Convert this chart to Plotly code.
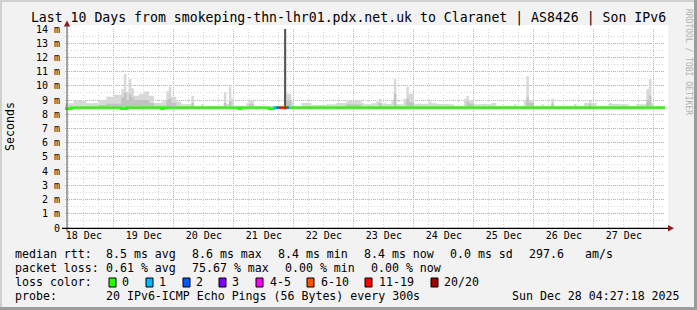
import plotly.graph_objects as go
import pandas as pd

# ---------------- data ----------------
TITLE = "Last 10 Days from smokeping-thn-lhr01.pdx.net.uk to Claranet | AS8426 | Son IPv6"
T_START = "2025-12-18 04:27:18"
T_END = "2025-12-28 04:27:18"
FIRST_BIN = "2025-12-18 04:00"   # hourly bins

# top of the smoke (max rtt, ms) per hour
smoke_max = [
    8.77, 8.77, 8.77, 8.77, 8.96, 8.96, 8.96, 8.96, 8.96, 8.77, 8.77, 8.77, 8.80, 8.80, 8.96, 8.96, 8.96, 9.24, 9.24, 9.24, 9.38, 9.38, 9.38, 9.76,
    10.83, 9.60, 10.48, 9.83, 9.30, 9.30, 9.45, 9.45, 9.60, 9.60, 9.30, 9.30, 8.80, 8.80, 8.80, 8.90, 8.90, 9.64, 9.94, 9.24, 9.24, 8.90, 8.90, 8.70,
    8.70, 8.70, 8.70, 9.30, 8.60, 8.60, 8.60, 8.70, 8.56, 8.56, 8.56, 8.56, 8.56, 8.56, 8.56, 8.56, 9.55, 8.70, 9.94, 9.10, 8.60, 8.60, 8.60, 8.60,
    8.60, 8.77, 8.96, 8.96, 8.60, 8.60, 8.60, 8.56, 8.56, 8.56, 8.56, 8.56, 8.50, 8.50, 8.50, 8.50, 16.0, 9.45, 9.45, 8.90, 8.56, 8.56, 8.56, 8.80,
    8.80, 8.80, 8.80, 8.65, 8.65, 8.65, 8.65, 8.65, 8.65, 8.70, 8.70, 8.70, 8.70, 8.80, 8.80, 8.80, 8.80, 8.96, 8.96, 8.96, 8.96, 8.96, 8.96, 8.77,
    8.70, 8.70, 8.70, 8.77, 8.77, 8.90, 9.10, 8.77, 8.77, 8.72, 8.72, 8.90, 10.46, 8.70, 8.70, 8.70, 9.10, 9.94, 9.45, 9.45, 8.75, 8.75, 8.75, 8.75,
    8.75, 8.75, 8.90, 8.77, 8.77, 8.72, 8.72, 8.72, 8.72, 8.72, 8.70, 8.70, 8.60, 8.60, 8.60, 8.60, 9.10, 9.30, 9.00, 9.00, 8.70, 8.70, 8.70, 8.72,
    8.72, 8.70, 8.70, 8.80, 8.80, 8.60, 8.60, 8.60, 8.60, 8.60, 8.60, 8.60, 8.70, 8.60, 8.60, 8.60, 9.00, 10.69, 9.00, 9.00, 8.60, 8.60, 8.60, 8.70,
    8.60, 8.60, 8.60, 9.10, 8.60, 8.60, 8.60, 8.60, 8.60, 8.60, 8.60, 8.60, 8.72, 8.60, 8.60, 8.60, 8.80, 8.80, 8.96, 8.80, 8.80, 8.60, 8.60, 8.60,
    8.60, 8.60, 8.80, 8.72, 8.72, 8.72, 8.70, 8.70, 8.70, 8.70, 8.60, 8.60, 8.60, 8.72, 8.70, 8.70, 8.70, 9.76, 10.46, 8.77, 8.60, 8.60, 8.60, 8.60,
    8.60,
]

# top of the denser (inner) smoke per hour
smoke_inner = [
    8.55, 8.55, 8.55, 8.55, 8.55, 8.55, 8.55, 8.55, 8.55, 8.55, 8.55, 8.55, 8.55, 8.55, 8.65, 8.65, 8.65, 8.75, 8.75, 8.75, 8.75, 8.75, 8.75, 9.20,
    9.50, 9.00, 9.40, 9.20, 9.00, 9.00, 9.00, 9.00, 9.00, 9.00, 8.80, 8.80, 8.60, 8.60, 8.60, 8.60, 8.60, 9.00, 9.10, 8.80, 8.80, 8.55, 8.55, 8.55,
    8.55, 8.55, 8.55, 8.80, 8.55, 8.55, 8.55, 8.55, 8.55, 8.55, 8.55, 8.55, 8.55, 8.55, 8.55, 8.55, 8.80, 8.55, 8.90, 8.55, 8.55, 8.55, 8.55, 8.55,
    8.55, 8.55, 8.70, 8.70, 8.55, 8.55, 8.55, 8.55, 8.55, 8.55, 8.55, 8.55, 8.55, 8.55, 8.55, 8.55, 8.55, 9.00, 9.00, 8.55, 8.55, 8.55, 8.55, 8.55,
    8.55, 8.55, 8.55, 8.55, 8.55, 8.55, 8.55, 8.55, 8.55, 8.55, 8.55, 8.55, 8.55, 8.55, 8.55, 8.55, 8.55, 8.70, 8.70, 8.70, 8.70, 8.70, 8.70, 8.55,
    8.55, 8.55, 8.55, 8.55, 8.55, 8.55, 8.80, 8.55, 8.55, 8.55, 8.55, 8.55, 9.45, 8.55, 8.55, 8.55, 8.55, 9.10, 8.85, 8.85, 8.55, 8.55, 8.55, 8.55,
    8.55, 8.55, 8.55, 8.55, 8.55, 8.55, 8.55, 8.55, 8.55, 8.55, 8.55, 8.55, 8.55, 8.55, 8.55, 8.55, 8.55, 8.90, 8.75, 8.75, 8.55, 8.55, 8.55, 8.55,
    8.55, 8.55, 8.55, 8.55, 8.55, 8.55, 8.55, 8.55, 8.55, 8.55, 8.55, 8.55, 8.55, 8.55, 8.55, 8.55, 8.55, 9.20, 8.80, 8.80, 8.55, 8.55, 8.55, 8.55,
    8.55, 8.55, 8.55, 8.75, 8.55, 8.55, 8.55, 8.55, 8.55, 8.55, 8.55, 8.55, 8.55, 8.55, 8.55, 8.55, 8.55, 8.55, 8.70, 8.55, 8.55, 8.55, 8.55, 8.55,
    8.55, 8.55, 8.55, 8.55, 8.55, 8.55, 8.55, 8.55, 8.55, 8.55, 8.55, 8.55, 8.55, 8.55, 8.55, 8.55, 8.55, 9.00, 9.30, 8.55, 8.55, 8.55, 8.55, 8.55,
    8.55,
]

# median rtt (ms) per hour
median_rtt = [
    8.39, 8.39, 8.39, 8.47, 8.47, 8.47, 8.47, 8.47, 8.47, 8.47, 8.47, 8.47, 8.47, 8.47, 8.47, 8.47, 8.47, 8.47, 8.47, 8.47, 8.47, 8.47, 8.47, 8.39,
    8.39, 8.47, 8.47, 8.47, 8.47, 8.47, 8.47, 8.47, 8.47, 8.47, 8.47, 8.47, 8.47, 8.47, 8.47, 8.39, 8.47, 8.47, 8.47, 8.47, 8.47, 8.47, 8.47, 8.47,
    8.47, 8.47, 8.47, 8.47, 8.47, 8.47, 8.47, 8.47, 8.47, 8.47, 8.47, 8.47, 8.47, 8.47, 8.47, 8.47, 8.47, 8.47, 8.47, 8.47, 8.47, 8.47, 8.39, 8.47,
    8.47, 8.47, 8.47, 8.47, 8.47, 8.47, 8.47, 8.47, 8.47, 8.47, 8.39, 8.39, 8.47, 8.47, 8.47, 8.47, 8.47, 8.47, 8.47, 8.47, 8.47, 8.47, 8.47, 8.47,
    8.47, 8.47, 8.47, 8.47, 8.47, 8.47, 8.47, 8.47, 8.47, 8.47, 8.47, 8.47, 8.47, 8.47, 8.47, 8.47, 8.47, 8.47, 8.47, 8.47, 8.47, 8.47, 8.47, 8.47,
    8.47, 8.47, 8.47, 8.47, 8.47, 8.47, 8.47, 8.47, 8.47, 8.47, 8.47, 8.47, 8.47, 8.47, 8.47, 8.47, 8.47, 8.47, 8.47, 8.47, 8.47, 8.47, 8.47, 8.47,
    8.47, 8.47, 8.47, 8.47, 8.47, 8.47, 8.47, 8.47, 8.47, 8.47, 8.47, 8.47, 8.47, 8.47, 8.47, 8.47, 8.47, 8.47, 8.47, 8.47, 8.47, 8.47, 8.47, 8.47,
    8.47, 8.47, 8.47, 8.47, 8.47, 8.47, 8.47, 8.47, 8.47, 8.47, 8.47, 8.47, 8.47, 8.47, 8.47, 8.47, 8.47, 8.47, 8.47, 8.47, 8.47, 8.47, 8.47, 8.47,
    8.47, 8.47, 8.47, 8.47, 8.47, 8.47, 8.47, 8.47, 8.47, 8.47, 8.47, 8.47, 8.47, 8.47, 8.47, 8.47, 8.47, 8.47, 8.47, 8.47, 8.47, 8.47, 8.47, 8.47,
    8.47, 8.47, 8.47, 8.47, 8.47, 8.47, 8.47, 8.47, 8.47, 8.47, 8.47, 8.47, 8.47, 8.47, 8.47, 8.47, 8.47, 8.47, 8.47, 8.47, 8.47, 8.47, 8.47, 8.47,
    8.47,
]

# pings lost (of 20) per hour
lost_pings = [
    0, 0, 0, 0, 0, 0, 0, 0, 0, 0, 0, 0, 0, 0, 0, 0, 0, 0, 0, 0, 0, 0, 0, 0,
    0, 0, 0, 0, 0, 0, 0, 0, 0, 0, 0, 0, 0, 0, 0, 0, 0, 0, 0, 0, 0, 0, 0, 0,
    0, 0, 0, 0, 0, 0, 0, 0, 0, 0, 0, 0, 0, 0, 0, 0, 0, 0, 0, 0, 0, 0, 0, 0,
    0, 0, 0, 0, 0, 0, 0, 0, 0, 0, 0, 0, 1, 2, 12, 12, 15, 2, 0, 0, 0, 0, 0, 0,
    0, 0, 0, 0, 0, 0, 0, 0, 0, 0, 0, 0, 0, 0, 0, 0, 0, 0, 0, 0, 0, 0, 0, 0,
    0, 0, 0, 0, 0, 0, 0, 0, 0, 0, 0, 0, 0, 0, 0, 0, 0, 0, 0, 0, 0, 0, 0, 0,
    0, 0, 0, 0, 0, 0, 0, 0, 0, 0, 0, 0, 0, 0, 0, 0, 0, 0, 0, 0, 0, 0, 0, 0,
    0, 0, 0, 0, 0, 0, 0, 0, 0, 0, 0, 0, 0, 0, 0, 0, 0, 0, 0, 0, 0, 0, 0, 0,
    0, 0, 0, 0, 0, 0, 0, 0, 0, 0, 0, 0, 0, 0, 0, 0, 0, 0, 0, 0, 0, 0, 0, 0,
    0, 0, 0, 0, 0, 0, 0, 0, 0, 0, 0, 0, 0, 0, 0, 0, 0, 0, 0, 0, 0, 0, 0, 0,
    0,
]

day_dates = ["2025-12-18", "2025-12-19", "2025-12-20", "2025-12-21", "2025-12-22",
             "2025-12-23", "2025-12-24", "2025-12-25", "2025-12-26", "2025-12-27"]
day_labels = ["18 Dec", "19 Dec", "20 Dec", "21 Dec", "22 Dec",
              "23 Dec", "24 Dec", "25 Dec", "26 Dec", "27 Dec"]
y_tick_vals = [0, 1, 2, 3, 4, 5, 6, 7, 8, 9, 10, 11, 12, 13, 14]
y_tick_text = ["0", "1 m", "2 m", "3 m", "4 m", "5 m", "6 m", "7 m", "8 m",
               "9 m", "10 m", "11 m", "12 m", "13 m", "14 m"]

loss_labels = ["0", "1", "2", "3", "4-5", "6-10", "11-19", "20/20"]
loss_colors = ["#26ff00", "#00b8ff", "#0059ff", "#7e00ff", "#ff00ff", "#ff5500", "#ff0000", "#a10000"]

rtt_avg, rtt_max, rtt_min, rtt_now, rtt_sd, am_s = "8.5", "8.6", "8.4", "8.4", "0.0", "297.6"
loss_avg, loss_max, loss_min, loss_now = "0.61", "75.67", "0.00", "0.00"
probe_text = "20 IPv6-ICMP Echo Pings (56 Bytes) every 300s"
stamp_text = "Sun Dec 28 04:27:18 2025"

# ---------------- style ----------------
MONO = "DejaVu Sans Mono"
SMOKE_FLOOR = 8.35
SMOKE_LIGHT = "#d8d8d8"
SMOKE_MID = "#c2c2c2"
SMOKE_DARK = "#555555"
RED_GRID = "#f4a3a3"
GRAY_GRID = "#d4d4d4"
L, R, T, B, W, H = 65, 32, 29, 82, 697, 310


def px_x(px):
    return (px - L) / (W - L - R)


def px_y(py):
    return ((H - B) - py) / (H - T - B)


def loss_class(k):
    if k == 0:
        return 0
    if k <= 3:
        return k
    if k <= 5:
        return 4
    if k <= 10:
        return 5
    if k <= 19:
        return 6
    return 7


n = len(smoke_max)
starts = pd.date_range(FIRST_BIN, periods=n, freq="h")
edges = list(starts) + [starts[-1] + pd.Timedelta(hours=1)]
centers = [s + pd.Timedelta(minutes=30) for s in starts]

fig = go.Figure()

# smoke: light outer band
fig.add_trace(go.Scatter(x=edges, y=[SMOKE_FLOOR] * (n + 1), mode="lines", line=dict(width=0, shape="hv"),
                         hoverinfo="skip", showlegend=False))
fig.add_trace(go.Scatter(x=edges, y=smoke_max + [smoke_max[-1]], mode="lines", line=dict(width=0, shape="hv"),
                         fill="tonexty", fillcolor=SMOKE_LIGHT, hoverinfo="skip", showlegend=False))
# smoke: denser inner band
fig.add_trace(go.Scatter(x=edges, y=[SMOKE_FLOOR] * (n + 1), mode="lines", line=dict(width=0, shape="hv"),
                         hoverinfo="skip", showlegend=False))
fig.add_trace(go.Scatter(x=edges, y=smoke_inner + [smoke_inner[-1]], mode="lines", line=dict(width=0, shape="hv"),
                         fill="tonexty", fillcolor=SMOKE_MID, hoverinfo="skip", showlegend=False))
# dark smoke where few pings returned
dx, dy = [], []
for i in range(n):
    if lost_pings[i] >= 15:
        dx += [centers[i], centers[i], None]
        dy += [SMOKE_FLOOR, smoke_max[i], None]
fig.add_trace(go.Scatter(x=dx, y=dy, mode="lines", line=dict(color=SMOKE_DARK, width=2),
                         hoverinfo="skip", showlegend=False))

# median line (green), then loss-coloured segments on top
LW = 2.4
fig.add_trace(go.Scatter(x=edges, y=median_rtt + [median_rtt[-1]], mode="lines",
                         line=dict(color=loss_colors[0], width=LW, shape="hv"), hoverinfo="skip", showlegend=False))
for c in range(1, len(loss_colors)):
    xs, ys = [], []
    for i in range(n):
        if lost_pings[i] > 0 and loss_class(lost_pings[i]) == c:
            xs += [edges[i], edges[i + 1], None]
            ys += [median_rtt[i], median_rtt[i], None]
    if xs:
        fig.add_trace(go.Scatter(x=xs, y=ys, mode="lines", line=dict(color=loss_colors[c], width=LW),
                                 hoverinfo="skip", showlegend=False))

# dummy trace for the label axis
noons = [d + " 12:00" for d in day_dates]
fig.add_trace(go.Scatter(x=[noons[0]], y=[None], xaxis="x2", yaxis="y", mode="markers",
                         hoverinfo="skip", showlegend=False))

tickfont = dict(family=MONO, size=10, color="#000000")
fig.update_layout(
    width=W, height=H, autosize=False,
    margin=dict(l=L, r=R, t=T, b=B, pad=0),
    paper_bgcolor="#f2f2f2", plot_bgcolor="#ffffff",
    showlegend=False,
    title=dict(text=TITLE, x=0.5, xref="container", xanchor="center",
               y=1 - 17 / H, yref="container", yanchor="middle",
               font=dict(family=MONO, size=13.2, color="#000")),
    xaxis=dict(type="date", range=[T_START, T_END], tick0="2025-12-18 00:00", dtick=86400000,
               showticklabels=False, ticks="", showgrid=True, gridcolor=RED_GRID, griddash="1px,1px",
               gridwidth=1, zeroline=False, showline=False, fixedrange=True,
               minor=dict(dtick=21600000, tick0="2025-12-18 00:00", showgrid=True, gridcolor=GRAY_GRID,
                          griddash="1px,2px", gridwidth=1)),
    xaxis2=dict(type="date", overlaying="x", side="bottom", anchor="y", range=[T_START, T_END],
                tickmode="array", tickvals=noons, ticktext=day_labels, showgrid=False, zeroline=False,
                ticks="", tickfont=tickfont, showline=False, fixedrange=True),
    yaxis=dict(range=[0, 14], tickmode="array", tickvals=y_tick_vals, ticktext=y_tick_text,
               showgrid=True, gridcolor=RED_GRID, griddash="1px,1px", gridwidth=1,
               minor=dict(dtick=0.5, tick0=0, showgrid=True, gridcolor=GRAY_GRID, griddash="1px,2px", gridwidth=1),
               zeroline=False, showline=False, ticks="", tickfont=tickfont, ticklabelstandoff=4, fixedrange=True),
)

shapes = []
# frame
shapes.append(dict(type="rect", xref="paper", yref="paper", x0=px_x(0), x1=px_x(W), y0=px_y(0), y1=px_y(2),
                   fillcolor="#d0d0d0", line=dict(width=0), layer="above"))
shapes.append(dict(type="rect", xref="paper", yref="paper", x0=px_x(0), x1=px_x(2), y0=px_y(0), y1=px_y(H),
                   fillcolor="#d0d0d0", line=dict(width=0), layer="above"))
shapes.append(dict(type="rect", xref="paper", yref="paper", x0=px_x(W - 3), x1=px_x(W), y0=px_y(0), y1=px_y(H),
                   fillcolor="#9c9c9c", line=dict(width=0), layer="above"))
shapes.append(dict(type="rect", xref="paper", yref="paper", x0=px_x(0), x1=px_x(W), y0=px_y(H - 3), y1=px_y(H),
                   fillcolor="#9c9c9c", line=dict(width=0), layer="above"))
# white canvas margin just outside the data area (top and right), as in rrdtool
shapes.append(dict(type="rect", xref="paper", yref="paper", x0=px_x(65), x1=px_x(668), y0=px_y(29), y1=px_y(25),
                   fillcolor="#ffffff", line=dict(width=0), layer="below"))
shapes.append(dict(type="rect", xref="paper", yref="paper", x0=px_x(665), x1=px_x(668), y0=px_y(228), y1=px_y(25),
                   fillcolor="#ffffff", line=dict(width=0), layer="below"))
# axes
shapes.append(dict(type="line", xref="paper", yref="paper", x0=px_x(67), x1=px_x(67), y0=px_y(231), y1=px_y(26),
                   line=dict(color="#666666", width=1.2), layer="above"))
shapes.append(dict(type="line", xref="paper", yref="paper", x0=px_x(62), x1=px_x(669), y0=px_y(228.3), y1=px_y(228.3),
                   line=dict(color="#000000", width=1.2), layer="above"))
# arrows
shapes.append(dict(type="path", xref="paper", yref="paper",
                   path=f"M {px_x(63.8)} {px_y(26.5)} L {px_x(70.2)} {px_y(26.5)} L {px_x(67)} {px_y(20.5)} Z",
                   fillcolor="#8f1a1a", line=dict(width=0), layer="above"))
shapes.append(dict(type="path", xref="paper", yref="paper",
                   path=f"M {px_x(668)} {px_y(225)} L {px_x(668)} {px_y(231.6)} L {px_x(674)} {px_y(228.3)} Z",
                   fillcolor="#8f1a1a", line=dict(width=0), layer="above"))

annotations = []


def txt(px, py, s, size=11.6, color="#000", anchor="left", angle=0):
    annotations.append(dict(text=s, xref="paper", yref="paper", x=px_x(px), y=px_y(py),
                            xanchor=anchor, yanchor="middle", showarrow=False, textangle=angle,
                            borderpad=0, borderwidth=0,
                            font=dict(family=MONO, size=size, color=color)))


txt(10, 127, "Seconds", anchor="center", angle=-90)
txt(689, 62, "RRDTOOL / TOBI OETIKER", size=8, color="#b0b0b0", anchor="center", angle=90)

# stats rows
txt(15, 254, "median rtt:")
txt(106, 254, f"{rtt_avg} ms avg")
txt(192, 254, f"{rtt_max} ms max")
txt(278, 254, f"{rtt_min} ms min")
txt(364, 254, f"{rtt_now} ms now")
txt(450, 254, f"{rtt_sd} ms sd")
txt(529, 254, am_s)
txt(585, 254, "am/s")

txt(15, 268, "packet loss:")
txt(106, 268, f"{loss_avg} % avg")
txt(192, 268, f"{loss_max} % max")
txt(285, 268, f"{loss_min} % min")
txt(371, 268, f"{loss_now} % now")

txt(15, 282, "loss color:")
box_x = [109, 146, 183, 219, 256, 307, 365, 431]
lab_x = [122, 159, 196, 232, 270, 321, 379, 444]
for lab, col, bx, lx in zip(loss_labels, loss_colors, box_x, lab_x):
    shapes.append(dict(type="rect", xref="paper", yref="paper", x0=px_x(bx), x1=px_x(bx + 7),
                       y0=px_y(278), y1=px_y(287), fillcolor=col, line=dict(color="#000", width=1), layer="above"))
    txt(lx, 282, lab)

txt(15, 296, "probe:")
txt(106, 296, probe_text)
txt(512, 296, stamp_text)

fig.update_layout(shapes=shapes, annotations=annotations)
fig.write_html("out.html")
